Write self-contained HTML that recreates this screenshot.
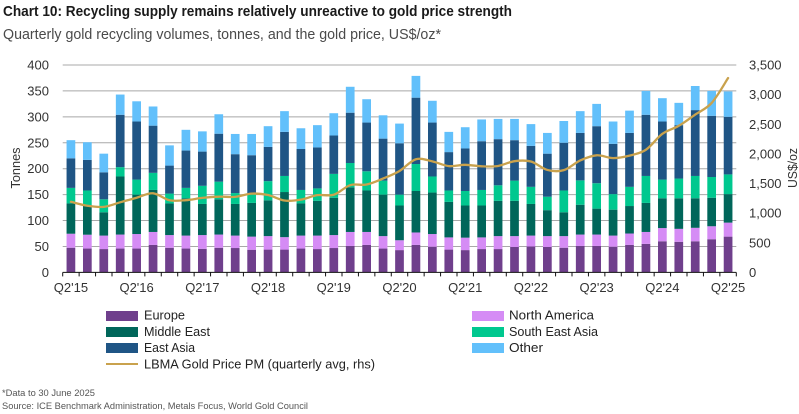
<!DOCTYPE html>
<html lang="en">
<head>
<meta charset="utf-8">
<title>Recycling supply chart</title>
<style>
html,body{margin:0;padding:0;background:#fff;width:799px;height:414px;overflow:hidden}
svg{display:block;font-family:"Liberation Sans",sans-serif}
</style>
</head>
<body>
<svg id="chart" xmlns="http://www.w3.org/2000/svg" width="799" height="414" viewBox="0 0 799 414">
  <rect x="0" y="0" width="799" height="414" fill="#fff"/>
  <text x="3" y="16" font-size="15" font-weight="700" fill="#1a1a1a" textLength="509" lengthAdjust="spacingAndGlyphs">Chart 10: Recycling supply remains relatively unreactive to gold price strength</text>
  <text x="3" y="39" font-size="15" fill="#4a4a4a" textLength="438" lengthAdjust="spacingAndGlyphs">Quarterly gold recycling volumes, tonnes, and the gold price, US$/oz*</text>
  <g id="grid"></g>
  <g id="bars"></g>
  <g id="axes"></g>
  <g id="line"></g>
  <text transform="translate(20,168) rotate(-90)" font-size="13" fill="#333" text-anchor="middle" textLength="41" lengthAdjust="spacingAndGlyphs">Tonnes</text>
  <text transform="translate(797,168) rotate(-90)" font-size="13" fill="#333" text-anchor="middle" textLength="40" lengthAdjust="spacingAndGlyphs">US$/oz</text>

  <g font-size="13" fill="#222">
    <g>
      <rect x="106" y="311" width="32" height="10" fill="#6f3f8c"/>
      <text x="144" y="319.5" textLength="41" lengthAdjust="spacingAndGlyphs">Europe</text>
    </g>
    <g>
      <rect x="106" y="327" width="32" height="10" fill="#00665a"/>
      <text x="144" y="336" textLength="66" lengthAdjust="spacingAndGlyphs">Middle East</text>
    </g>
    <g>
      <rect x="106" y="343" width="32" height="10" fill="#1f5585"/>
      <text x="144" y="352" textLength="51" lengthAdjust="spacingAndGlyphs">East Asia</text>
    </g>
    <g>
      <line x1="106" y1="364" x2="138" y2="364" stroke="#c9a24d" stroke-width="2"/>
      <text x="144" y="368.5" textLength="231" lengthAdjust="spacingAndGlyphs">LBMA Gold Price PM (quarterly avg, rhs)</text>
    </g>
    <g>
      <rect x="472" y="311" width="32" height="10" fill="#d58cf5"/>
      <text x="509" y="319.5" textLength="85" lengthAdjust="spacingAndGlyphs">North America</text>
    </g>
    <g>
      <rect x="472" y="327" width="32" height="10" fill="#00c88f"/>
      <text x="509" y="336" textLength="89" lengthAdjust="spacingAndGlyphs">South East Asia</text>
    </g>
    <g>
      <rect x="472" y="343" width="32" height="10" fill="#62c0fb"/>
      <text x="509" y="352" textLength="34" lengthAdjust="spacingAndGlyphs">Other</text>
    </g>
  </g>

  <text x="2" y="396" font-size="9.5" fill="#555" textLength="93" lengthAdjust="spacingAndGlyphs">*Data to 30 June 2025</text>
  <text x="2" y="409" font-size="9.5" fill="#555" textLength="306" lengthAdjust="spacingAndGlyphs">Source: ICE Benchmark Administration, Metals Focus, World Gold Council</text>
</svg>
<script>
const quarters = ["Q2'15","Q3'15","Q4'15","Q1'16","Q2'16","Q3'16","Q4'16","Q1'17","Q2'17","Q3'17","Q4'17","Q1'18","Q2'18","Q3'18","Q4'18","Q1'19","Q2'19","Q3'19","Q4'19","Q1'20","Q2'20","Q3'20","Q4'20","Q1'21","Q2'21","Q3'21","Q4'21","Q1'22","Q2'22","Q3'22","Q4'22","Q1'23","Q2'23","Q3'23","Q4'23","Q1'24","Q2'24","Q3'24","Q4'24","Q1'25","Q2'25"];
const xTickLabels = ["Q2'15","Q2'16","Q2'17","Q2'18","Q2'19","Q2'20","Q2'21","Q2'22","Q2'23","Q2'24","Q2'25"];
const leftTicks = [0,50,100,150,200,250,300,350,400];
const rightTicks = [0,500,1000,1500,2000,2500,3000,3500];
const europe = [47.6,46,45,46,46,53,47.5,46,45.5,47.5,47,43.7,44,44,46,45,47,51,53,46,43,53,49.5,44,43,45,45,49,50,49,47.6,51,51,49.5,53,55,60,59,60,64,69];
const northAmerica = [27,26.7,26,27,28,25,24.5,25,26.5,25.5,24,25.3,26,24,25,26,25,27,25,24,19,24,24.5,23.5,24,22.5,25,21,21,21,22.4,22,22,21.5,22,23,25.5,25,26,25,27];
const middleEast = [58.4,57.3,45,112,76,81,61,72,60,68,61,65,69,87,62,67,72,86,80,80,67,80,80,68.5,62,61.5,68,68,61,50,46,57.5,50,50,53,56,57.5,59,57,55,55];
const southEastAsia = [30,28,25,18,29,33,19,20,35,34,21,18,37,31,26,24,46,47,37,27,21,52,31,22,28,30,30,39,33,26,42,47,49,30,37,52,36,38,43,40,38];
const eastAsia = [57,59,52,101,112,91,54,72,66,92.5,75,74,66,85,79,79,74,97,94,81,99,128,104,74,82,94,89,78,79,83,92,91.5,110,97,104,118,112,103,127,118,111];
const other = [35,34,36,39,39,37,39,40,39,37.5,39,41,40,40,40,43,43,50,45,45,38,42,42,39,41,42,39,41,42,40,42,42,43,43,43,46,45,43,46.5,48,49];
const goldPrice = [1192,1124,1106,1183,1260,1335,1218,1219,1257,1278,1275,1329,1306,1213,1228,1304,1310,1472,1483,1583,1711,1909,1874,1794,1816,1790,1796,1877,1871,1729,1726,1890,1976,1929,1971,2070,2338,2474,2663,2860,3280];

const stackSeries = [
  {key:'europe', values:europe, color:'#6f3f8c'},
  {key:'north-america', values:northAmerica, color:'#d58cf5'},
  {key:'middle-east', values:middleEast, color:'#00665a'},
  {key:'south-east-asia', values:southEastAsia, color:'#00c88f'},
  {key:'east-asia', values:eastAsia, color:'#1f5585'},
  {key:'other', values:other, color:'#62c0fb'}
];

const NS = 'http://www.w3.org/2000/svg';
const plot = {left:62.7, right:736.3, top:65, bottom:272.4};
const band = (plot.right - plot.left) / quarters.length;
const barWidth = band * 0.53;
function xLeft(i){ return plot.left + i * band; }
function xCenter(i){ return plot.left + (i + 0.5) * band; }
function yLeft(v){ return plot.bottom - v / 400 * (plot.bottom - plot.top); }
function yRight(v){ return plot.bottom - v / 3500 * (plot.bottom - plot.top); }
function make(tag, attrs, parent){
  const el = document.createElementNS(NS, tag);
  for (const k in attrs) el.setAttribute(k, attrs[k]);
  parent.appendChild(el);
  return el;
}

const gridG = document.getElementById('grid');
const barsG = document.getElementById('bars');
const axesG = document.getElementById('axes');
const lineG = document.getElementById('line');

leftTicks.forEach(function(t){
  if (t > 0) {
    const g = make('line', {x1:plot.left, x2:plot.right, y1:yLeft(t), y2:yLeft(t), stroke:'#a8a8a8', 'stroke-width':1}, gridG);
    
    
  }
  const lab = make('text', {x:49, y:yLeft(t) + 4.5, 'font-size':13, fill:'#333', 'text-anchor':'end'}, axesG);
  lab.textContent = String(t);
  
  
});

rightTicks.forEach(function(t){
  const lab = make('text', {x:749, y:yRight(t) + 4.5, 'font-size':13, fill:'#333'}, axesG);
  lab.textContent = t.toLocaleString('en-US');
  
  
});

quarters.forEach(function(q, i){
  let cum = 0;
  stackSeries.forEach(function(s){
    const v = s.values[i];
    const r = make('rect', {x:xCenter(i) - barWidth / 2, y:yLeft(cum + v), width:barWidth, height:yLeft(cum) - yLeft(cum + v), fill:s.color}, barsG);
    
    
    cum += v;
  });
});

const axisLine = make('line', {x1:plot.left, x2:plot.right, y1:plot.bottom, y2:plot.bottom, stroke:'#111', 'stroke-width':1}, axesG);


for (let i = 0; i <= quarters.length; i++) {
  const t = make('line', {x1:xLeft(i), x2:xLeft(i), y1:plot.bottom, y2:plot.bottom + 4, stroke:'#111', 'stroke-width':1}, axesG);
  
  
}
xTickLabels.forEach(function(label){
  const i = quarters.indexOf(label);
  const t = make('text', {x:xCenter(i), y:292, 'font-size':13, fill:'#333', 'text-anchor':'middle'}, axesG);
  t.textContent = label;
  
  
});

const pts = goldPrice.map(function(v, i){ return [xCenter(i), yRight(v)]; });
let d = 'M' + pts[0][0] + ' ' + pts[0][1];
for (let i = 0; i < pts.length - 1; i++) {
  const p0 = pts[Math.max(i - 1, 0)], p1 = pts[i], p2 = pts[i + 1], p3 = pts[Math.min(i + 2, pts.length - 1)];
  const c1x = p1[0] + (p2[0] - p0[0]) / 6, c1y = p1[1] + (p2[1] - p0[1]) / 6;
  const c2x = p2[0] - (p3[0] - p1[0]) / 6, c2y = p2[1] - (p3[1] - p1[1]) / 6;
  d += ' C' + c1x + ' ' + c1y + ' ' + c2x + ' ' + c2y + ' ' + p2[0] + ' ' + p2[1];
}
const goldLine = make('path', {d:d, fill:'none', stroke:'#c9a24d', 'stroke-width':2.3, 'stroke-linejoin':'round', 'stroke-linecap':'round'}, lineG);


</script>
</body>
</html>
